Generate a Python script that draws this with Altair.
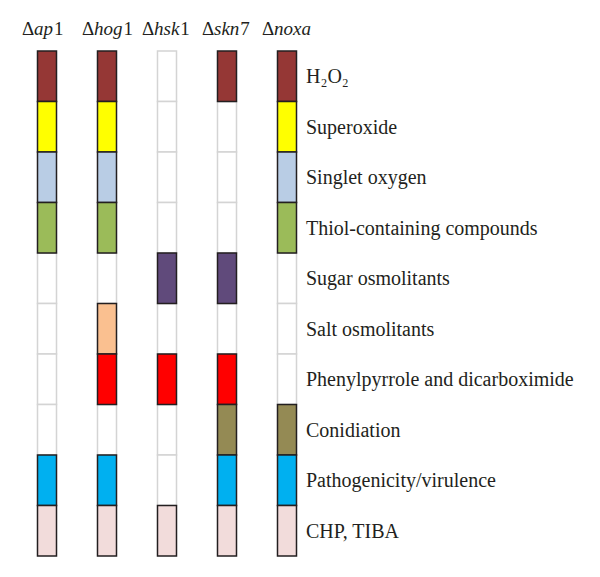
import altair as alt
import pandas as pd

# ---- data ----
genes = ["ap", "hog", "hsk", "skn", "noxa"]
gene_nums = ["1", "1", "1", "7", ""]
phenotypes = [
    "H₂O₂",
    "Superoxide",
    "Singlet oxygen",
    "Thiol-containing compounds",
    "Sugar osmolitants",
    "Salt osmolitants",
    "Phenylpyrrole and dicarboximide",
    "Conidiation",
    "Pathogenicity/virulence",
    "CHP, TIBA",
]
colors = [
    "#953735", "#FFFF00", "#B9CDE5", "#9BBB59", "#604A7B",
    "#FAC090", "#FF0000", "#948A54", "#00B0F0", "#F2DCDB",
]
ap1 = [1, 1, 1, 1, 0, 0, 0, 0, 1, 1]
hog1 = [1, 1, 1, 1, 0, 1, 1, 0, 1, 1]
hsk1 = [0, 0, 0, 0, 1, 0, 1, 0, 0, 1]
skn7 = [1, 0, 0, 0, 1, 0, 1, 1, 1, 1]
noxa = [1, 1, 1, 1, 0, 0, 0, 1, 1, 1]
matrix = [ap1, hog1, hsk1, skn7, noxa]

# approximate italic glyph widths (em) of the serif font, for placing the digit
italic_w = {"a": 0.5, "p": 0.5, "h": 0.5, "o": 0.5, "g": 0.5,
            "s": 0.389, "k": 0.444, "n": 0.5, "x": 0.444}

keys = [g + n for g, n in zip(genes, gene_nums)]

rows = []
for key, vals in zip(keys, matrix):
    for ph, col, v in zip(phenotypes, colors, vals):
        rows.append({"gene": key, "pheno": ph, "color": col, "on": v})
cells = pd.DataFrame(rows)

FONT = "Liberation Serif"
HFS = 19
INK = "#231f20"

xscale = alt.Scale(domain=keys, range=[29.5, 288.5], paddingInner=0.6833, paddingOuter=0)
yscale = alt.Scale(domain=phenotypes, range=[43, 548], paddingInner=0, paddingOuter=0)

X = alt.X("gene:N", scale=xscale, axis=None)
Y = alt.Y("pheno:N", scale=yscale, axis=None)

base = alt.Chart(cells)

empty = base.transform_filter("datum.on == 0").mark_rect(
    fill="white", stroke="#d4d4d4", strokeWidth=1.5
).encode(x=X, y=Y)

filled = base.transform_filter("datum.on == 1").mark_rect(
    stroke=INK, strokeWidth=1.5
).encode(x=X, y=Y, fill=alt.Fill("color:N", scale=None))

labels_df = pd.DataFrame({"gene": [keys[-1]] * len(phenotypes), "pheno": phenotypes})
labels = alt.Chart(labels_df).mark_text(
    align="left", baseline="middle", dx=19, dy=1, font=FONT, fontSize=20, color=INK
).encode(x=X, y=Y, text="pheno:N")

head_df = pd.DataFrame({"gene": keys, "g": genes, "num": gene_nums})
hbase = alt.Chart(head_df)
delta = hbase.mark_text(
    align="left", baseline="alphabetic", dx=-25, font=FONT, fontSize=HFS, color=INK
).encode(x=X, y=alt.value(27), text=alt.value("Δ"))
gname = hbase.mark_text(
    align="left", baseline="alphabetic", dx=-13, font=FONT, fontSize=HFS,
    fontStyle="italic", color=INK
).encode(x=X, y=alt.value(27), text="g:N")

layers = [empty, filled, labels, delta, gname]
for key, g, n in zip(keys, genes, gene_nums):
    if not n:
        continue
    w = sum(italic_w[c] for c in g) * HFS
    layers.append(
        hbase.transform_filter(alt.datum.gene == key).mark_text(
            align="left", baseline="alphabetic", dx=-13 + w + 1, font=FONT,
            fontSize=HFS, color=INK
        ).encode(x=X, y=alt.value(27), text="num:N")
    )

chart = alt.layer(*layers).properties(
    width=584, height=561, padding=0
).configure_view(strokeWidth=0)

chart.save("out.html", embed_options={"renderer": "svg", "actions": False})
